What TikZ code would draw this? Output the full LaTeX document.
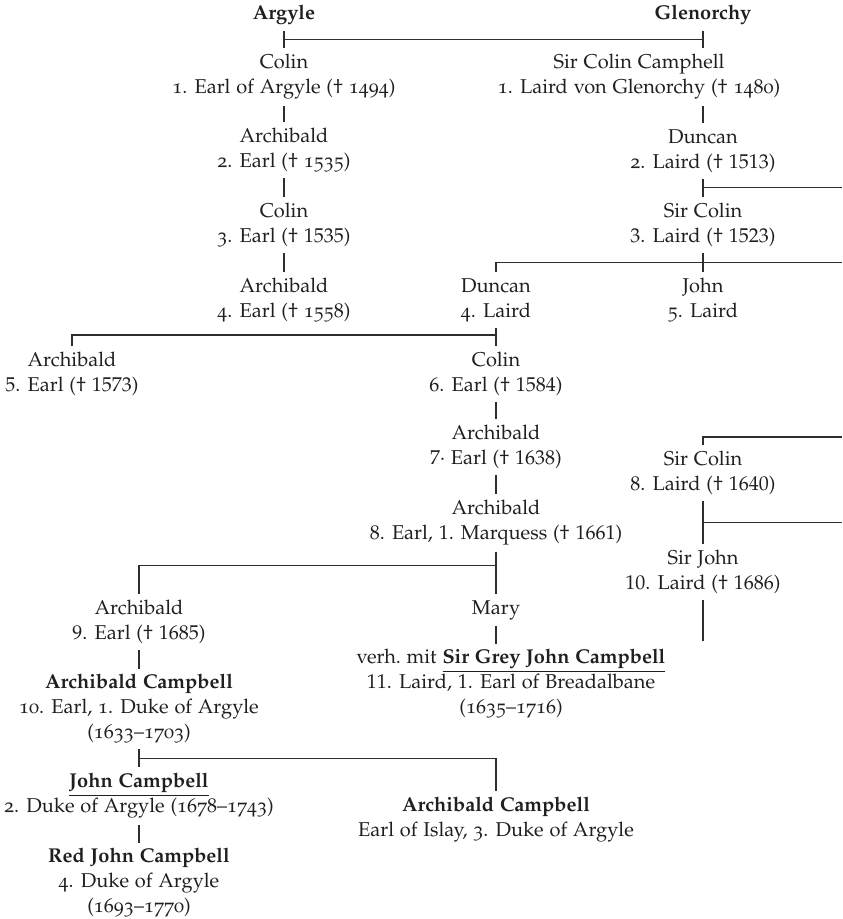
\documentclass[tikz,border=0pt]{standalone}
\usepackage[T1]{fontenc}
\renewcommand{\rmdefault}{pplx}
\usetikzlibrary{positioning, calc}
\newcommand{\osf}[1]{{\fontfamily{pplj}\selectfont #1}}
\tikzset{
  % one entry of the family tree
  person/.style={
    align=center, inner sep=0pt, outer sep=3pt, text=black!88,
    font=\fontsize{10}{12.5}\selectfont
  },
  % name of a house
  house/.style={person, font=\fontsize{10}{12.5}\selectfont\bfseries},
  % descent line
  kin/.style={line width=0.6pt, draw=black!82},
}

\begin{document}
\begin{tikzpicture}[x=0.5pt, y=-0.5pt]
  \useasboundingbox (0,0) rectangle (842,919);
  \coordinate (rim) at (842,0);

  % Argyle
  \node[house]  (argyle) at (284,15)  {Argyle};
  \node[person] (colin1) at (284,77)  {Colin\\\osf{1. Earl of Argyle (\textdagger\ 1494)}};
  \node[person] (arch2)  at (284,150) {Archibald\\\osf{2. Earl (\textdagger\ 1535)}};
  \node[person] (colin3) at (284,225) {Colin\\\osf{3.} Earl (\textdagger\ 1535)};
  \node[person] (arch4)  at (284,300) {Archibald\\\osf{4. Earl (\textdagger\ 1558)}};
  \node[person] (arch5)  at (72,374)  {Archibald\\5. Earl (\textdagger\ 1573)};
  \node[person] (colin6) at (496,374) {Colin\\6. Earl (\textdagger\ 1584)};
  \node[person] (arch7)  at (496,447) {Archibald\\7\textperiodcentered\ Earl (\textdagger\ 1638)};
  \node[person] (arch8)  at (496,523) {Archibald\\8. Earl, 1. Marquess (\textdagger\ 1661)};
  \node[person] (arch9)  at (139,622) {Archibald\\9. Earl (\textdagger\ 1685)};
  \node[person] (mary)   at (496,610) {Mary};
  \node[person] (grey)   at (511,684) {verh.\ mit \underline{\textbf{Sir Grey John Campbell}}\\11. Laird, 1. Earl of Breadalbane\\\osf{(1635--1716)}};
  \node[person] (duke1)  at (139,709) {\textbf{Archibald Campbell}\\\osf{10. Earl, 1. Duke of Argyle}\\\osf{(1633--1703)}};
  \node[person] (john2)  at (139,796) {\underline{\textbf{John Campbell}}\\\osf{2. Duke of Argyle (1678--1743)}};
  \node[person] (islay)  at (496,820) {\textbf{Archibald Campbell}\\\osf{Earl of Islay, 3. Duke of Argyle}};
  \node[person] (redjohn) at (139,883) {\textbf{Red John Campbell}\\\osf{4. Duke of Argyle}\\\osf{(1693--1770)}};

  % Glenorchy
  \node[house]  (glen)      at (703,15)  {Glenorchy};
  \node[person] (sircolin1) at (639,77)  {Sir Colin Camphell\\\osf{1. Laird von Glenorchy (\textdagger\ 1480)}};
  \node[person] (duncan2)   at (703,151) {Duncan\\\osf{2.} Laird (\textdagger\ 1513)};
  \node[person] (sircolin3) at (703,225) {Sir Colin\\3. Laird (\textdagger\ 1523)};
  \node[person] (duncan4)   at (496,300) {Duncan\\\osf{4.} Laird};
  \node[person] (john5)     at (703,300) {John\\\osf{5.} Laird};
  \node[person] (sircolin8) at (703,473) {Sir Colin\\8. Laird (\textdagger\ 1640)};
  \node[person] (sirjohn10) at (703,572) {Sir John\\10. Laird (\textdagger\ 1686)};

  % descent lines
  \draw[kin] (argyle) -- (colin1);
  \draw[kin] (glen) -- (glen |- sircolin1.north);
  \coordinate (j0) at ($(argyle.south)!.5!(colin1.north)$);
  \draw[kin] (j0) -- (j0 -| glen);
  \draw[kin] (colin1) -- (arch2);
  \draw[kin] (arch2) -- (colin3);
  \draw[kin] (colin3) -- (arch4);

  \draw[kin] (sircolin1.south -| duncan2) -- (duncan2);
  \draw[kin] (duncan2) -- (sircolin3);
  \coordinate (j2) at ($(duncan2.south)!.5!(sircolin3.north)$);
  \draw[kin] (j2) -- (j2 -| rim);
  \draw[kin] (sircolin3) -- (john5);
  \coordinate (j3) at ($(sircolin3.south)!.5!(john5.north)$);
  \draw[kin] (duncan4.north) |- (j3 -| rim);

  \draw[kin] (duncan4) -- (colin6);
  \coordinate (j4) at ($(duncan4.south)!.4!(colin6.north)$);
  \draw[kin] (arch5.north) |- (j4);
  \draw[kin] (colin6) -- (arch7);
  \draw[kin] (arch7) -- (arch8);
  \draw[kin] (arch8) -- (mary);
  \coordinate (j8) at ($(arch8.south)!.33!(mary.north)$);
  \draw[kin] (arch9.north) |- (j8);
  \draw[kin] (mary) -- (mary |- grey.north);
  \draw[kin] (arch9) -- (duke1);
  \draw[kin] (duke1) -- (john2);
  \coordinate (j10) at ($(duke1.south)!.5!(john2.north)$);
  \draw[kin] (j10) -| (islay.north);
  \draw[kin] (john2) -- (redjohn);

  \coordinate (k8) at (842,437);
  \draw[kin] (k8) -| (sircolin8.north);
  \draw[kin] (sircolin8) -- (sirjohn10);
  \coordinate (j9) at ($(sircolin8.south)!.5!(sirjohn10.north)$);
  \draw[kin] (j9) -- (j9 -| rim);
  \coordinate (k10) at (703,641);
  \draw[kin] (sirjohn10) -- (k10);
\end{tikzpicture}
\end{document}
